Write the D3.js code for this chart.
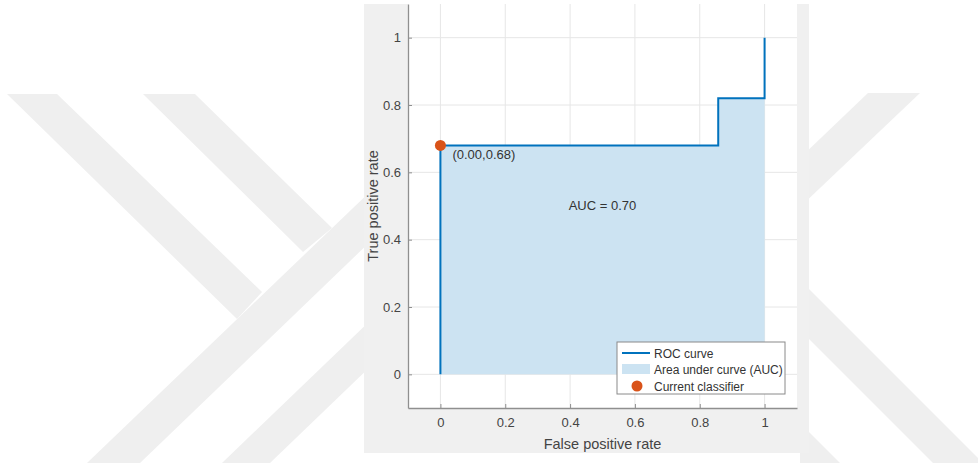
<!DOCTYPE html>
<html>
<head>
<meta charset="utf-8">
<script src="https://cdn.jsdelivr.net/npm/d3@7"></script>
<style>
html,body{margin:0;padding:0;background:#fff;}
svg{display:block;font-family:"Liberation Sans",Arial,Helvetica,sans-serif;}
</style>
</head>
<body>
<svg id="chart" width="978" height="469"></svg>
<script>
// ---- data ----
const rocFPR = [0, 0, 0.857, 0.857, 1, 1];
const rocTPR = [0, 0.68, 0.68, 0.82, 0.82, 1];
const currentFPR = [0.00];
const currentTPR = [0.68];
const aucValue = 0.70;
const tickValues = [0, 0.2, 0.4, 0.6, 0.8, 1];
const tickLabels = ["0", "0.2", "0.4", "0.6", "0.8", "1"];
const legendLabels = ["ROC curve", "Area under curve (AUC)", "Current classifier"];

const svg = d3.select("#chart");
const W = 978, H = 469;

// ---- background watermark (decoration) ----
const wm = svg.append("g").attr("fill", "#efefef");
const shapes = [
  [[7,94],[57,94],[262,292],[237,319]],
  [[87,463],[140,463],[400,213],[400,163]],
  [[143,94],[195,94],[332,228],[303,252]],
  [[222,463],[270,463],[400,338],[400,292]],
  [[868,93],[920,93],[800,207],[800,158]],
  [[800,280],[983,463],[933,463],[800,330]],
  [[800,423],[840,463],[800,463]]
];
shapes.forEach(s => wm.append("polygon").attr("points", s.map(p => p.join(",")).join(" ")));

// ---- figure panel ----
svg.append("rect").attr("x", 364).attr("y", 4).attr("width", 445).attr("height", 449).attr("fill", "#f0f0f0");

const L = 408, R = 797, T = 4, B = 408;
svg.append("rect").attr("x", L).attr("y", T).attr("width", R - L).attr("height", B - T).attr("fill", "#fff");

const x = d3.scaleLinear().domain([-0.1, 1.1]).range([L, R]);
const y = d3.scaleLinear().domain([-0.1, 1.1]).range([B, T]);

// grid
const grid = svg.append("g").attr("stroke", "#e6e6e6").attr("stroke-width", 1);
tickValues.forEach(v => {
  grid.append("line").attr("x1", x(v)).attr("x2", x(v)).attr("y1", T).attr("y2", B);
  grid.append("line").attr("y1", y(v)).attr("y2", y(v)).attr("x1", L).attr("x2", R);
});

// area under curve
const pts = rocFPR.map((d, i) => [d, rocTPR[i]]);
const area = d3.area().x(d => x(d[0])).y0(y(0)).y1(d => y(d[1]));
svg.append("path").datum(pts.slice(0, 5)).attr("d", area).attr("fill", "#cce3f2");

// ROC curve
const line = d3.line().x(d => x(d[0])).y(d => y(d[1]));
svg.append("path").datum(pts).attr("d", line).attr("fill", "none")
  .attr("stroke", "#0072BD").attr("stroke-width", 2);

// axes
const fmt = v => tickLabels[tickValues.indexOf(v)];
const xAxis = d3.axisBottom(x).tickValues(tickValues).tickFormat(fmt).tickSizeInner(-4).tickSizeOuter(0).tickPadding(10);
const yAxis = d3.axisLeft(y).tickValues(tickValues).tickFormat(fmt).tickSizeInner(-4).tickSizeOuter(0).tickPadding(7);
const gx = svg.append("g").attr("transform", `translate(0,${B})`).call(xAxis);
const gy = svg.append("g").attr("transform", `translate(${L},0)`).call(yAxis);
[gx, gy].forEach(g => {
  g.select(".domain").attr("stroke", "#8f8f8f").attr("stroke-width", 1.3);
  g.selectAll(".tick line").attr("stroke", "#8f8f8f");
  g.selectAll(".tick text").attr("fill", "#444").style("font-size", "13px").style("font-family", "Liberation Sans, Arial, sans-serif");
});

// axis labels
svg.append("text").attr("x", (L + R) / 2).attr("y", 449).attr("text-anchor", "middle")
  .attr("fill", "#444").style("font-size", "14.5px").text("False positive rate");
svg.append("text").attr("transform", `translate(378,${(T + B) / 2}) rotate(-90)`).attr("text-anchor", "middle")
  .attr("fill", "#444").style("font-size", "14.5px").text("True positive rate");

// current classifier point
svg.append("circle").attr("cx", x(currentFPR[0])).attr("cy", y(currentTPR[0])).attr("r", 5.5).attr("fill", "#D95319");
svg.append("text").attr("x", x(currentFPR[0]) + 12).attr("y", y(currentTPR[0]) + 14)
  .attr("fill", "#333").style("font-size", "13px")
  .text(`(${currentFPR[0].toFixed(2)},${currentTPR[0].toFixed(2)})`);

// AUC text
svg.append("text").attr("x", x(0.5)).attr("y", y(0.5) + 4).attr("text-anchor", "middle")
  .attr("fill", "#333").style("font-size", "13px").text(`AUC = ${aucValue.toFixed(2)}`);

// legend
const lg = svg.append("g").attr("transform", "translate(617,342)");
lg.append("rect").attr("width", 168).attr("height", 52).attr("fill", "#fff").attr("stroke", "#8a8a8a").attr("stroke-width", 1);
lg.append("line").attr("x1", 5).attr("x2", 33).attr("y1", 11).attr("y2", 11).attr("stroke", "#0072BD").attr("stroke-width", 2);
lg.append("rect").attr("x", 5).attr("y", 22).attr("width", 28).attr("height", 10).attr("fill", "#cce3f2");
lg.append("circle").attr("cx", 20).attr("cy", 44).attr("r", 5.5).attr("fill", "#D95319");
legendLabels.forEach((t, i) => {
  lg.append("text").attr("x", 37).attr("y", 15.5 + i * 16.5).attr("fill", "#333").style("font-size", "12px").text(t);
});
</script>
</body>
</html>
